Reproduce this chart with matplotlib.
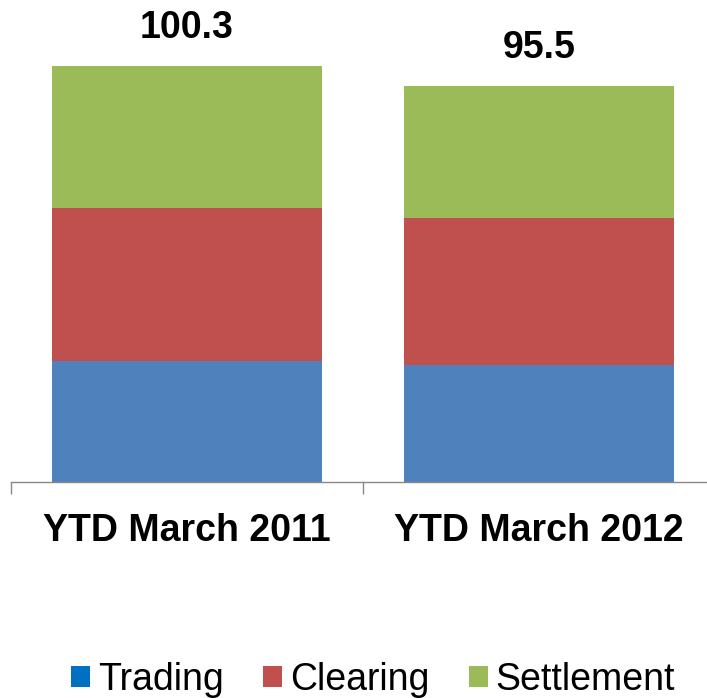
import matplotlib.pyplot as plt
from matplotlib.patches import Patch

plt.rcParams['font.family'] = ['Liberation Sans', 'DejaVu Sans']

categories = ['YTD March 2011', 'YTD March 2012']
trading = [29.2, 28.2]
clearing = [36.9, 35.4]
settlement = [34.2, 31.9]
totals = ['100.3', '95.5']

bar_colors = ['#4F81BD', '#C0504D', '#9BBB59']
legend_colors = ['#0070C0', '#C0504D', '#9BBB59']
series_names = ['Trading', 'Clearing', 'Settlement']

fig = plt.figure(figsize=(7.07, 6.98), dpi=100)
ax = fig.add_axes([11 / 707, 216 / 698, 704 / 707, 482 / 698])

x = list(range(len(categories)))
width = 0.767
bottom = [0.0] * len(categories)
for vals, col in zip([trading, clearing, settlement], bar_colors):
    ax.bar(x, vals, width, bottom=bottom, color=col, linewidth=0)
    bottom = [b + v for b, v in zip(bottom, vals)]

# total labels above the stacks
for i, top in enumerate(bottom):
    ax.annotate(totals[i], (i, top), xytext=(0, 20), textcoords='offset points',
                ha='center', va='baseline', fontsize=27, fontweight='bold')

ax.set_xlim(-0.5, 1.5)
ax.set_ylim(0, 116.2)

for s in ['top', 'left', 'right']:
    ax.spines[s].set_visible(False)
ax.spines['bottom'].set_color('#888888')
ax.spines['bottom'].set_linewidth(1)
ax.set_yticks([])

# boundary ticks and category labels
ax.set_xticks([-0.5, 0.5, 1.5])
ax.set_xticklabels([])
ax.tick_params(axis='x', which='major', length=8.6, color='#888888', width=1)
ax.set_xticks(x, minor=True)
ax.set_xticklabels(categories, minor=True, fontsize=27, fontweight='bold')
ax.tick_params(axis='x', which='minor', length=0, pad=22)

handles = [Patch(facecolor=c, edgecolor='none') for c in legend_colors]
fig.legend(handles, series_names, loc='center', bbox_to_anchor=(0.528, 0.026),
           ncol=3, frameon=False, fontsize=27, handlelength=0.5, handleheight=0.5,
           handletextpad=0.21, columnspacing=1.06, borderpad=0, borderaxespad=0)

fig.savefig('out.png', dpi=100)
